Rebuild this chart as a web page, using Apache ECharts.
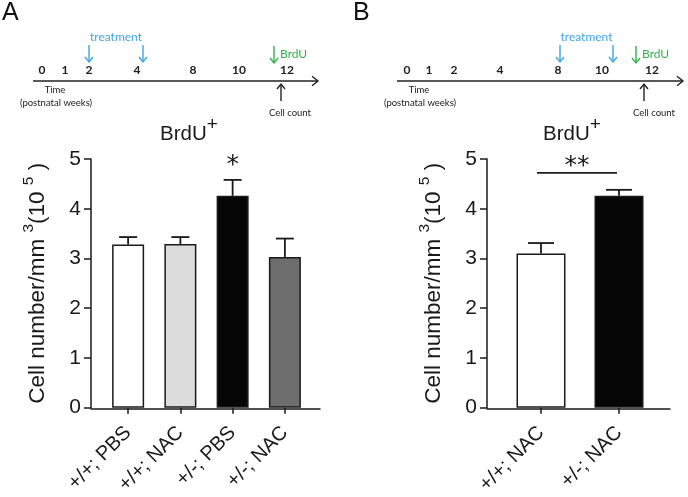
<!DOCTYPE html>
<html><head><meta charset="utf-8">
<script src="https://cdn.jsdelivr.net/npm/echarts@6/dist/echarts.min.js"></script>
<style>html,body{margin:0;padding:0;background:#fff}#c{width:688px;height:497px}</style>
</head><body><div id="c"></div>
<script>
// ---- data ----
const categoriesA = ['+/+; PBS', '+/+; NAC', '+/-; PBS', '+/-; NAC'];
const meansA = [3.28, 3.29, 4.26, 3.03];
const errorsA = [0.15, 0.14, 0.32, 0.37];
const signifA = ['', '', '*', ''];
const categoriesB = ['+/+; NAC', '+/-; NAC'];
const meansB = [3.10, 4.26];
const errorsB = [0.21, 0.12];
const signifB = '**';
const timelineTicks = ['0', '1', '2', '4', '8', '10', '12'];
const panelLetters = ['A', 'B'];
const yTitle = 'Cell number/mm';

// ---- styles / layout ----
const FONT = '"Liberation Sans", Arial, sans-serif';
const TFONT = 'Lato, "Open Sans", sans-serif';
const INK = '#1a1a1a';
const BLUE = '#3fa4e6';
const GREEN = '#2fb24a';
const colorsA = ['#ffffff', '#dcdcdc', '#060606', '#6e6e6e'];
const colorsB = ['#ffffff', '#060606'];

const chart = echarts.init(document.getElementById('c'), null, {renderer: 'canvas'});

function yAxisFor(grid, offset) {
  return {
    type: 'value', gridIndex: grid, min: 0, max: 5, interval: 1, offset: offset,
    axisLine: {show: true, lineStyle: {color: INK, width: 1.5}},
    axisTick: {show: true, inside: false, length: 7, lineStyle: {color: INK, width: 1.5}},
    axisLabel: {fontSize: 21, color: INK, fontFamily: FONT, margin: 10},
    splitLine: {show: false},
    name: '{t|' + yTitle + ' }{s|3}{t|(10 }{s|5}{t| )}',
    nameLocation: 'middle', nameRotate: 90, nameGap: 42,
    nameTextStyle: {
      fontFamily: FONT, color: INK,
      rich: {
        t: {fontSize: 22.5, fontFamily: FONT, color: INK, lineHeight: 23, verticalAlign: 'bottom'},
        s: {fontSize: 15.5, fontFamily: FONT, color: INK, lineHeight: 15, verticalAlign: 'bottom', padding: [0, 0, 12, 0]}
      }
    }
  };
}
function catAxis(grid, cats) {
  return {
    type: 'category', gridIndex: grid, data: cats,
    axisLine: {show: false},
    axisTick: {show: true, alignWithLabel: true, length: 6, lineStyle: {color: INK, width: 1.5}},
    axisLabel: {rotate: 45, fontSize: 20, color: INK, fontFamily: FONT, margin: 22, interval: 0}
  };
}
function lineAxis(grid) {
  return {type: 'value', gridIndex: grid, min: 0, max: 1,
    axisLine: {show: true, onZero: false, lineStyle: {color: INK, width: 1.5}},
    axisTick: {show: false}, axisLabel: {show: false}, splitLine: {show: false}};
}
function hiddenY(grid) { return {type: 'value', gridIndex: grid, show: false, min: 0, max: 1}; }

function errorSeries(xi, yi, means, errs, capHalf) {
  return {
    type: 'custom', xAxisIndex: xi, yAxisIndex: yi, z: 5,
    data: means.map((m, i) => [i, m, errs[i]]),
    encode: {x: 0, y: 1},
    renderItem: function (params, api) {
      const i = api.value(0), m = api.value(1), e = api.value(2);
      const p0 = api.coord([i, m]);
      const p1 = api.coord([i, m + e]);
      const st = {stroke: INK, lineWidth: 1.8};
      return {type: 'group', children: [
        {type: 'line', shape: {x1: p0[0], y1: p0[1], x2: p1[0], y2: p1[1]}, style: st},
        {type: 'line', shape: {x1: p1[0] - capHalf, y1: p1[1], x2: p1[0] + capHalf, y2: p1[1]}, style: st}
      ]};
    }
  };
}

// timeline schematic
function arrow(x1, y1, x2, y2, color, head) {
  const dx = x2 - x1, dy = y2 - y1, L = Math.hypot(dx, dy);
  const ux = dx / L, uy = dy / L, px = -uy, py = ux;
  const h = head || 5;
  return [
    {type: 'line', shape: {x1, y1, x2, y2}, style: {stroke: color, lineWidth: 1.4}},
    {type: 'polyline', shape: {points: [[x2 - ux * h + px * h * 0.8, y2 - uy * h + py * h * 0.8], [x2, y2], [x2 - ux * h - px * h * 0.8, y2 - uy * h - py * h * 0.8]]},
      style: {stroke: color, lineWidth: 1.4, fill: null}}
  ];
}
function txt(x, y, text, size, color, align, weight) {
  return {type: 'text', x: x, y: y, style: {text: text, fontSize: size, fontFamily: TFONT, fill: color,
    align: align || 'center', verticalAlign: 'middle', fontWeight: weight || 'normal'}};
}
function timeline(L) {
  let els = [];
  els = els.concat(arrow(L.x0, 81, L.x1, 81, '#222', 6));
  L.ticks.forEach((x, i) => els.push(txt(x, 70, timelineTicks[i], 12, '#222', 'center', 'bold')));
  els.push(txt(L.time, 90, 'Time', 9.5, '#222'));
  els.push(txt(L.time + 1, 103, '(postnatal weeks)', 9.5, '#222'));
  L.treat.forEach(x => { els = els.concat(arrow(x, 45, x, 62, BLUE, 5)); });
  els.push(txt((L.treat[0] + L.treat[1]) / 2, 37, 'treatment', 12, BLUE));
  els = els.concat(arrow(L.brdu, 46, L.brdu, 63, GREEN, 5));
  els.push(txt(L.brdu + 6, 54, 'BrdU', 12, GREEN, 'left'));
  els = els.concat(arrow(L.count, 101, L.count, 84, '#222', 5));
  els.push(txt(L.countText, 113, 'Cell count', 9.5, '#222'));
  return els;
}
const tlA = {x0: 33, x1: 318, ticks: [42, 65, 89, 137, 193, 239, 287], time: 55, treat: [89, 143], brdu: 274, count: 281, countText: 290};
const tlB = {x0: 397, x1: 683, ticks: [407, 429, 454, 500, 558, 602, 652], time: 419, treat: [560, 613], brdu: 636, count: 644, countText: 654};

const titleRich = {
  a: {fontSize: 20.5, fontFamily: FONT, fontWeight: 'normal', color: INK, lineHeight: 30, verticalAlign: 'bottom'},
  s: {fontSize: 19, fontFamily: FONT, fontWeight: 'normal', color: INK, lineHeight: 19, verticalAlign: 'top'}
};

const option = {
  animation: false,
  backgroundColor: '#fff',
  title: [
    {text: panelLetters[0], left: 2, top: 1, padding: 0, textStyle: {fontFamily: FONT, fontSize: 25, fontWeight: 'normal', color: '#111'}},
    {text: panelLetters[1], left: 353, top: 1, padding: 0, textStyle: {fontFamily: FONT, fontSize: 25, fontWeight: 'normal', color: '#111'}},
    {text: '{a|BrdU}{s|+}', left: 160, top: 115, padding: 0, textStyle: {fontWeight: 'normal', rich: titleRich}},
    {text: '{a|BrdU}{s|+}', left: 543, top: 115, padding: 0, textStyle: {fontWeight: 'normal', rich: titleRich}}
  ],
  grid: [
    {left: 102, top: 159, width: 209, height: 250},
    {left: 91, top: 159, width: 229, height: 250},
    {left: 502, top: 159, width: 156, height: 250},
    {left: 487, top: 159, width: 183, height: 250}
  ],
  xAxis: [catAxis(0, categoriesA), lineAxis(1), catAxis(2, categoriesB), lineAxis(3)],
  yAxis: [yAxisFor(0, 11), hiddenY(1), yAxisFor(2, 15), hiddenY(3)],
  graphic: timeline(tlA).concat(timeline(tlB)),
  series: [
    {type: 'bar', xAxisIndex: 0, yAxisIndex: 0, barWidth: 32, z: 3,
      data: meansA.map((v, i) => ({value: v, itemStyle: {color: colorsA[i]}})),
      itemStyle: {borderColor: INK, borderWidth: 1.5}},
    errorSeries(0, 0, meansA, errorsA, 9),
    {type: 'custom', xAxisIndex: 0, yAxisIndex: 0, z: 6,
      data: meansA.map((m, i) => [i, m + errorsA[i], signifA[i]]),
      encode: {x: 0, y: 1},
      renderItem: function (params, api) {
        const s = signifA[params.dataIndex];
        if (!s) return null;
        const p = api.coord([api.value(0), api.value(1)]);
        return {type: 'text', x: p[0], y: p[1] - 14, style: {text: s, fontSize: 25, fontFamily: '"DejaVu Sans"', fill: INK, align: 'center', verticalAlign: 'middle'}};
      }},
    {type: 'bar', xAxisIndex: 2, yAxisIndex: 2, barWidth: 49, z: 3,
      data: meansB.map((v, i) => ({value: v, itemStyle: {color: colorsB[i]}})),
      itemStyle: {borderColor: INK, borderWidth: 1.5}},
    errorSeries(2, 2, meansB, errorsB, 13),
    {type: 'custom', xAxisIndex: 2, yAxisIndex: 2, z: 6,
      data: [[0, 1]],
      renderItem: function (params, api) {
        const top = Math.max.apply(null, meansB.map((m, i) => m + errorsB[i]));
        const a = api.coord([0, top]), b = api.coord([1, top]);
        const y = a[1] - 17;
        return {type: 'group', children: [
          {type: 'line', shape: {x1: a[0] - 4, y1: y, x2: b[0] - 2, y2: y}, style: {stroke: INK, lineWidth: 1.6}},
          {type: 'text', x: (a[0] + b[0]) / 2 - 3, y: y - 6, style: {text: signifB, fontSize: 25, fontFamily: '"DejaVu Sans"', fill: INK, align: 'center', verticalAlign: 'middle'}}
        ]};
      }}
  ]
};
chart.setOption(option);
</script></body></html>
